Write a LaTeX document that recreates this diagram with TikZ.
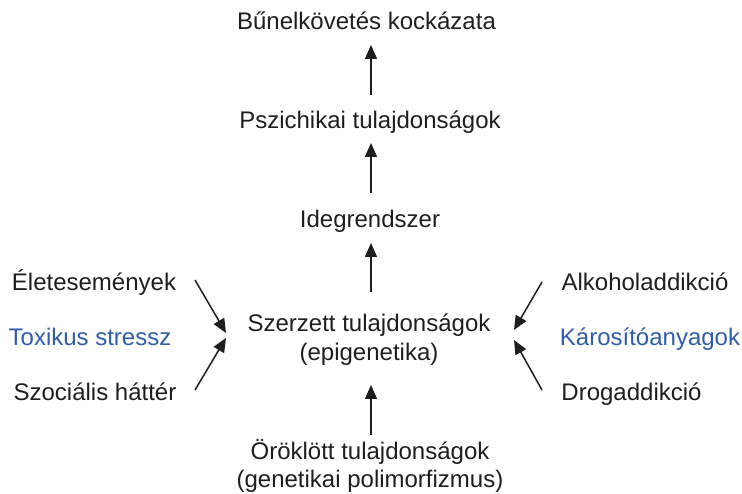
\documentclass[tikz,border=0pt]{standalone}
\usepackage{fontspec}
\setmainfont{Liberation Sans}
\usetikzlibrary{arrows.meta}
\definecolor{txt}{HTML}{1E1E1E}
\definecolor{blu}{HTML}{2F5DAA}
\tikzset{
  lbl/.style={anchor=base, inner sep=0pt, text=txt, font=\fontsize{24}{28}\selectfont},
  blbl/.style={lbl, text=blu},
  arr/.style={draw=txt, line width=1.5pt, -{Triangle[length=14pt,width=12pt]}},
}
\begin{document}
\begin{tikzpicture}[x=1pt,y=-1pt]
\useasboundingbox (0,0) rectangle (742,494);
\node[lbl] (bun) at (366.5,29.5) {Bűnelkövetés kockázata};
\node[lbl] (psz) at (370,129) {Pszichikai tulajdonságok};
\node[lbl] (ide) at (370,228) {Idegrendszer};
\node[lbl] (sze) at (369,332) {Szerzett tulajdonságok};
\node[lbl] (epi) at (369,361) {(epigenetika)};
\node[lbl] (oro) at (370,459) {Öröklött tulajdonságok};
\node[lbl] (gen) at (370,487) {(genetikai polimorfizmus)};
\node[lbl] (ele) at (94,291) {Életesemények};
\node[blbl] (tox) at (90,346) {Toxikus stressz};
\node[lbl] (szo) at (95,400) {Szociális háttér};
\node[lbl] (alk) at (645,291) {Alkoholaddikció};
\node[blbl] (kar) at (650,346) {Károsítóanyagok};
\node[lbl] (dro) at (631.5,400) {Drogaddikció};
% vertical arrows
\coordinate (a1s) at (371,95);  \coordinate (a1e) at (371,45);
\coordinate (a2s) at (371,193); \coordinate (a2e) at (371,143);
\coordinate (a3s) at (371,292); \coordinate (a3e) at (371,243);
\coordinate (a4s) at (371,435); \coordinate (a4e) at (371,385);
\draw[arr] (a1s) -- (a1e);
\draw[arr] (a2s) -- (a2e);
\draw[arr] (a3s) -- (a3e);
\draw[arr] (a4s) -- (a4e);
% side arrows
\coordinate (l1) at (195,280); \coordinate (l1t) at (226,333);
\coordinate (l2) at (195,390); \coordinate (l2t) at (226,338);
\coordinate (r1) at (542,282); \coordinate (r1t) at (514,330);
\coordinate (r2) at (542,390); \coordinate (r2t) at (514,340);
\draw[arr] (l1) -- (l1t);
\draw[arr] (l2) -- (l2t);
\draw[arr] (r1) -- (r1t);
\draw[arr] (r2) -- (r2t);
\end{tikzpicture}
\end{document}
